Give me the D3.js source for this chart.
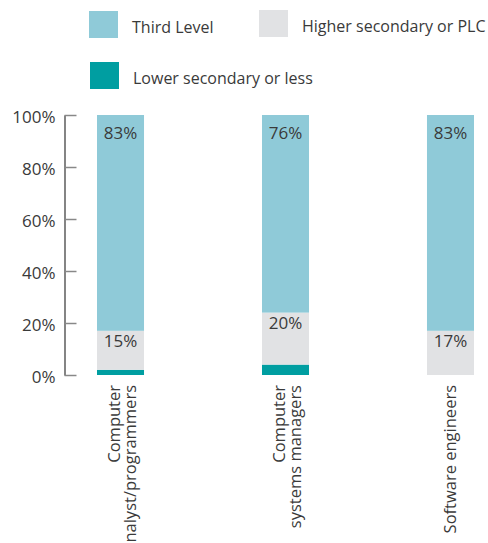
<!DOCTYPE html>
<html>
<head>
<meta charset="utf-8">
<script src="https://cdn.jsdelivr.net/npm/d3@7"></script>
<style>
  html, body { margin: 0; padding: 0; background: #fff; }
  svg text { font-family: "Open Sans", "Noto Sans", sans-serif; fill: #3a3a3a; }
</style>
</head>
<body>
<svg id="chart" width="488" height="543"></svg>
<script>
// Occupations (two-line labels are split on "|")
const categories = ["Computer|analyst/programmers", "Computer|systems managers", "Software engineers"];
const seriesNames = ["Lower secondary or less", "Higher secondary or PLC", "Third Level"];
// Share of workers by highest education level, in percent
const lowerSecondary = [2, 4, 0];
const higherSecondary = [15, 20, 17];
const thirdLevel = [83, 76, 83];
const yTicks = [0, 20, 40, 60, 80, 100];
const colors = ["#009ea1", "#e1e2e4", "#8fcad8"];

const svg = d3.select("#chart");

const x = d3.scaleBand()
  .domain(categories)
  .range([64, 507])
  .paddingInner(0.715)
  .paddingOuter(0.2);

const y = d3.scaleLinear().domain([0, 100]).range([375, 115]);

// Stack the three levels bottom-up
const rows = categories.map((c, i) => ({
  cat: c,
  [seriesNames[0]]: lowerSecondary[i],
  [seriesNames[1]]: higherSecondary[i],
  [seriesNames[2]]: thirdLevel[i]
}));
const stacked = d3.stack().keys(seriesNames)(rows);

const layers = svg.append("g")
  .selectAll("g")
  .data(stacked)
  .join("g")
  .attr("fill", (d, i) => colors[i]);

layers.selectAll("rect")
  .data(d => d)
  .join("rect")
  .attr("x", d => x(d.data.cat))
  .attr("width", x.bandwidth())
  .attr("y", d => y(d[1]))
  .attr("height", d => y(d[0]) - y(d[1]));

// Value labels for the upper two levels, near the top of each segment
const labelOffset = { "Higher secondary or PLC": 16, "Third Level": 24 };
stacked.filter(s => s.key !== seriesNames[0]).forEach(s => {
  svg.append("g").selectAll("text")
    .data(s)
    .join("text")
    .attr("x", d => x(d.data.cat) + x.bandwidth() / 2)
    .attr("y", d => y(d[1]) + labelOffset[s.key])
    .attr("text-anchor", "middle")
    .style("font-size", "17px")
    .text(d => (d[1] - d[0]) + "%");
});

// Y axis with inward ticks
const yAxis = svg.append("g")
  .attr("transform", "translate(64.5,0)")
  .call(d3.axisLeft(y)
    .tickValues(yTicks)
    .tickFormat(d => d + "%")
    .tickSizeInner(-12)
    .tickSizeOuter(0)
    .tickPadding(9));
yAxis.select(".domain").attr("stroke", "#333").attr("stroke-width", 1.2);
yAxis.selectAll(".tick line").attr("stroke", "#888").attr("stroke-width", 1.5);
yAxis.selectAll(".tick text")
  .attr("dy", 7.5)
  .style("font-size", "17px")
  .style("font-family", "'Open Sans', 'Noto Sans', sans-serif")
  .attr("fill", "#3a3a3a");

// Rotated category labels below the bars
const xLabels = svg.append("g").selectAll("text")
  .data(categories)
  .join("text")
  .attr("text-anchor", "end")
  .style("font-size", "16.5px")
  .attr("transform", d => {
    const cx = x(d) + x.bandwidth() / 2;
    return `translate(${cx},385) rotate(-90)`;
  });
xLabels.each(function(d) {
  const lines = d.split("|");
  const t = d3.select(this);
  const base = lines.length === 1 ? 6 : -1;
  lines.forEach((ln, i) => {
    t.append("tspan")
      .attr("x", 0)
      .attr("y", base + i * 16.5)
      .text(ln);
  });
});

// Legend
const legendItems = [
  { name: seriesNames[2], color: colors[2], x: 89, y: 11 },
  { name: seriesNames[1], color: colors[1], x: 259, y: 10 },
  { name: seriesNames[0], color: colors[0], x: 90, y: 62 }
];
const legend = svg.append("g").selectAll("g")
  .data(legendItems)
  .join("g")
  .attr("transform", d => `translate(${d.x},${d.y})`);
legend.append("rect")
  .attr("width", 29)
  .attr("height", 27)
  .attr("fill", d => d.color);
legend.append("text")
  .attr("x", 43)
  .attr("y", 22)
  .style("font-size", "16px")
  .text(d => d.name);
</script>
</body>
</html>
